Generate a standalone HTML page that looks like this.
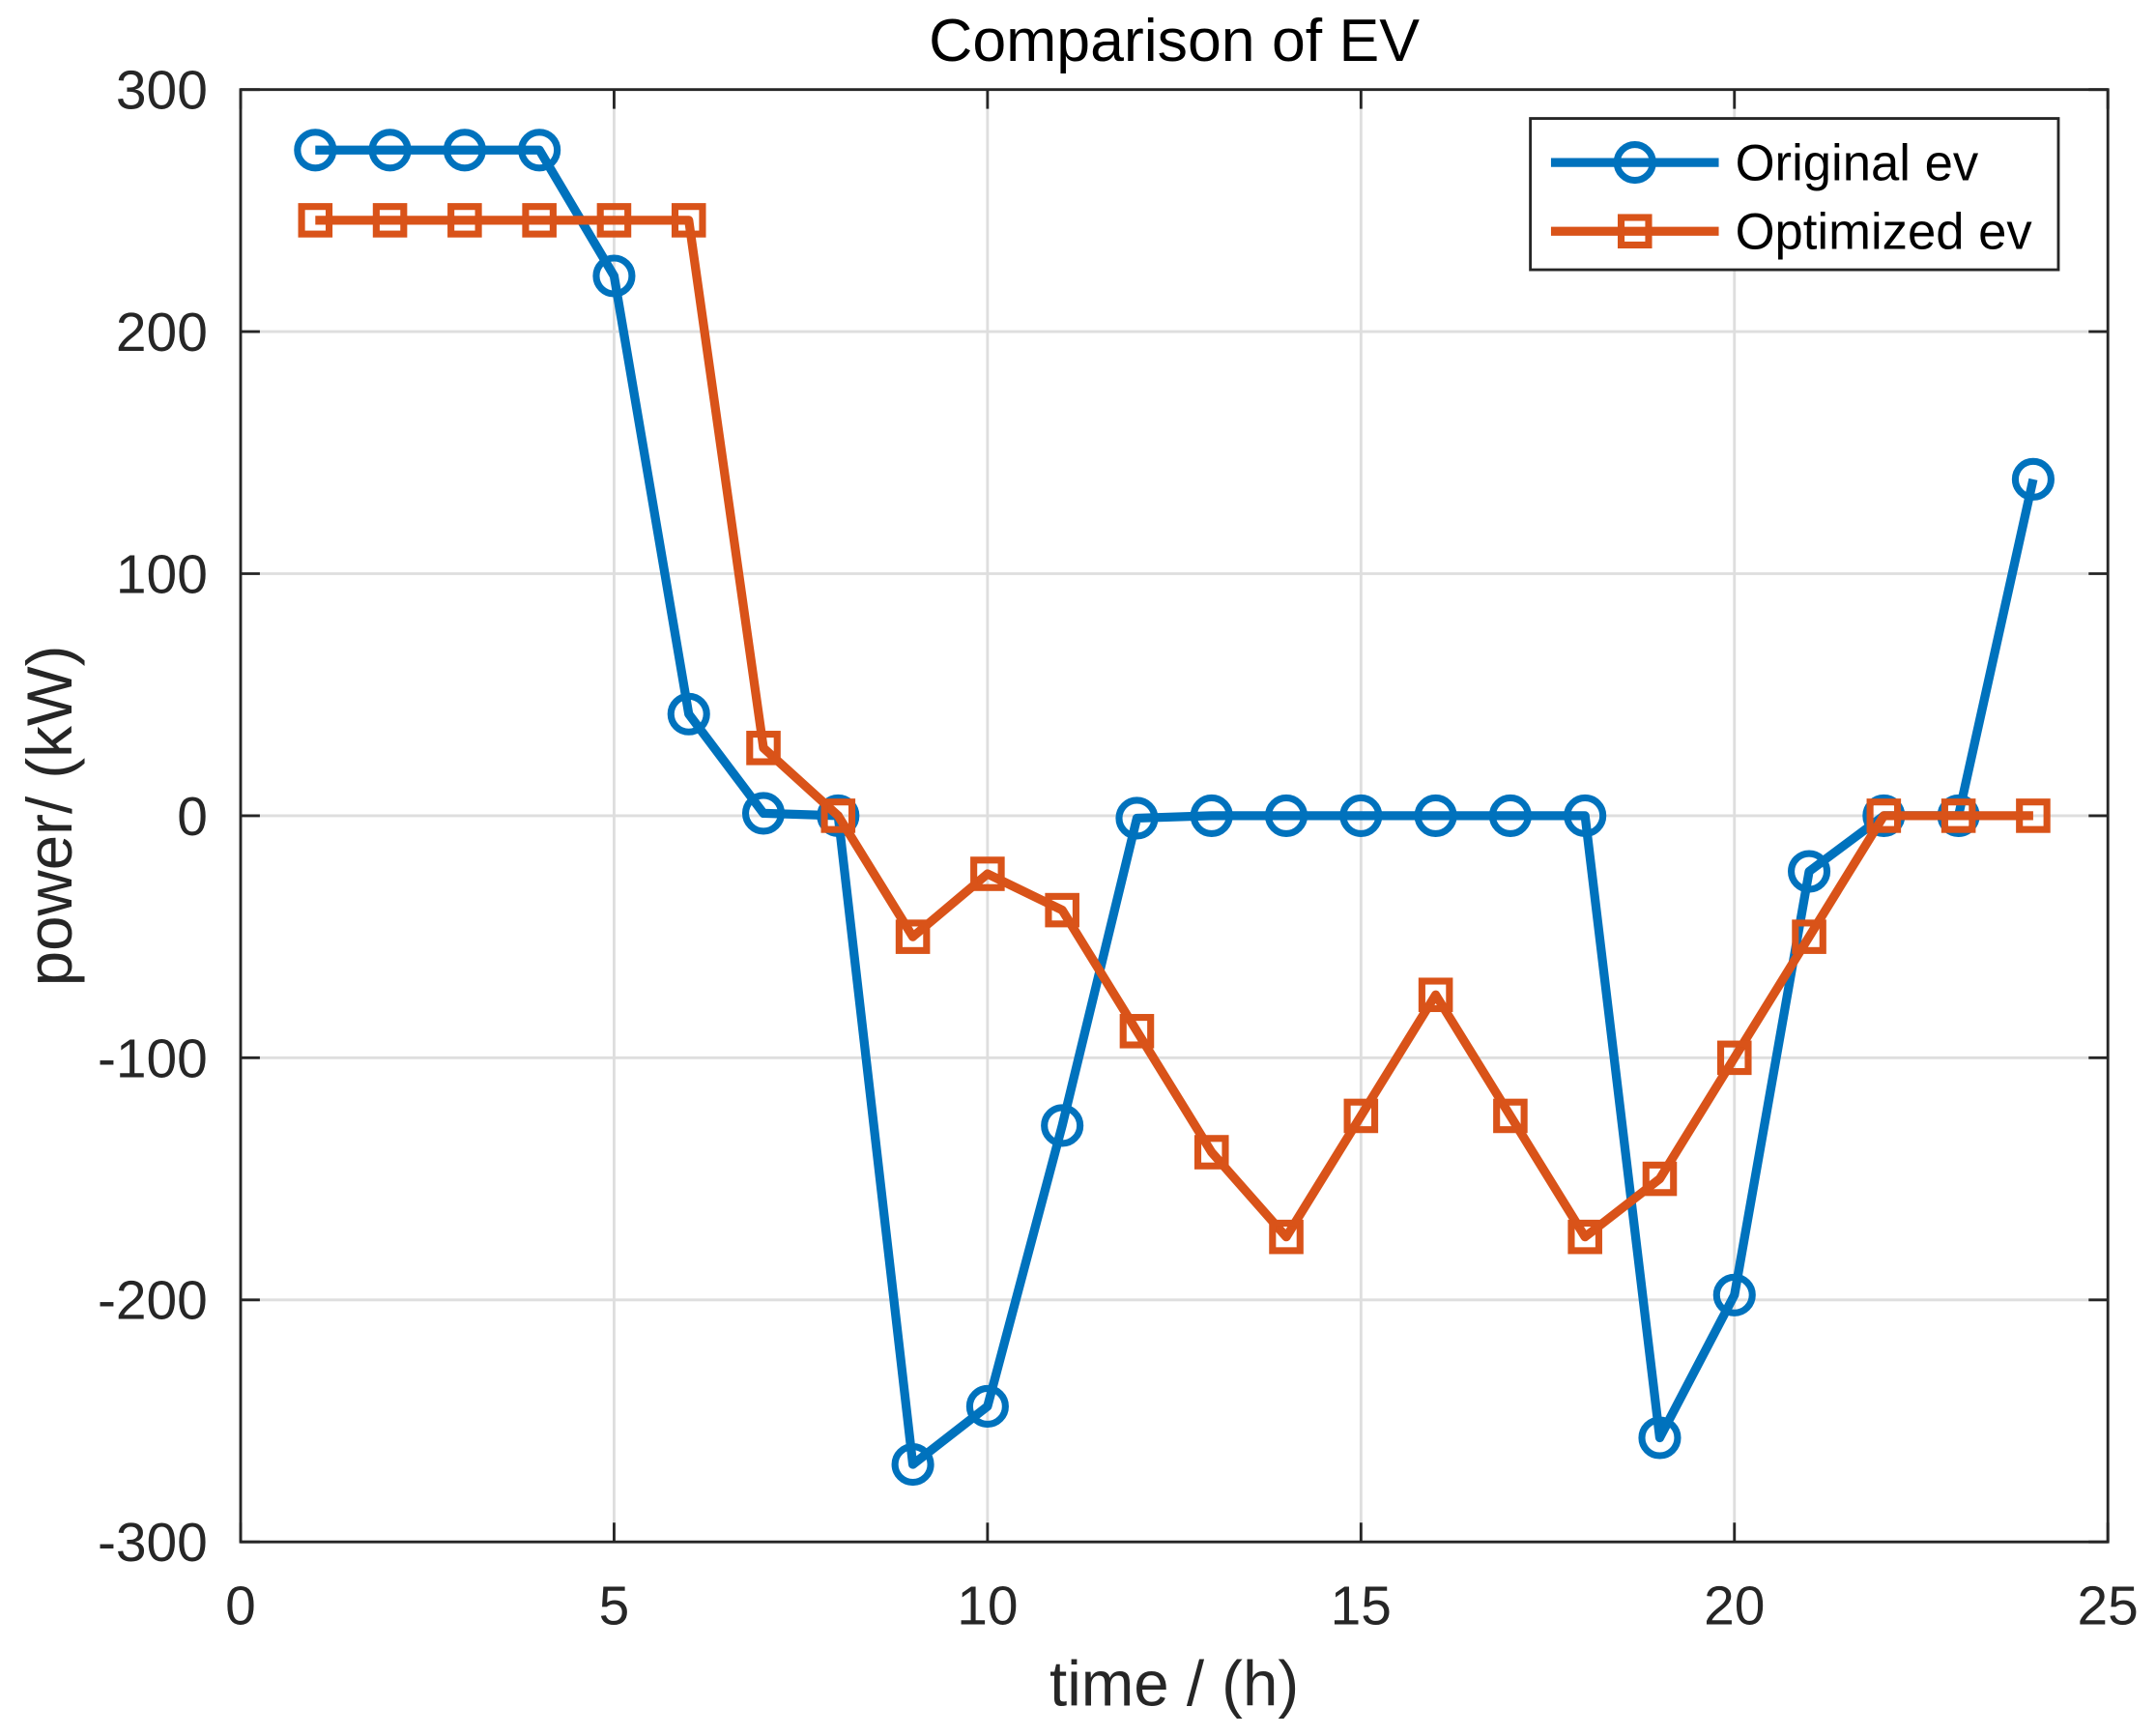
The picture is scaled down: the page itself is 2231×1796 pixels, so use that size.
<!DOCTYPE html>
<html><head><meta charset="utf-8"><style>
html,body{margin:0;padding:0;background:#fff;}
svg{display:block;font-family:"Liberation Sans",Arial,sans-serif;}
</style></head><body>
<svg id="chart" width="2231" height="1796" viewBox="0 0 1568 1262" xmlns="http://www.w3.org/2000/svg">
<rect x="0" y="0" width="1568" height="1262" fill="#fff"/>
<g id="grid"></g>
<g id="ticks"></g>
<g id="series"></g>
<rect x="175" y="65" width="1358" height="1056" fill="none" stroke="#262626" stroke-width="2"/>
<text x="854" y="44" font-size="44" text-anchor="middle" fill="#000">Comparison of EV</text>
<text x="854" y="1240" font-size="46" text-anchor="middle" fill="#262626">time / (h)</text>
<text transform="translate(52,593) rotate(-90)" font-size="46" text-anchor="middle" fill="#262626">power/ (kW)</text>
<g>
<rect x="1113" y="86" width="384" height="110" fill="#fff" stroke="#262626" stroke-width="2"/>
<g>
<line x1="1128" y1="118" x2="1250" y2="118" stroke="#0072BD" stroke-width="6.5"/>
<circle cx="1189" cy="118" r="13" fill="none" stroke="#0072BD" stroke-width="5"/>
<text x="1262" y="131" font-size="37" fill="#000">Original ev</text>
</g>
<g>
<line x1="1128" y1="168" x2="1250" y2="168" stroke="#D95319" stroke-width="6.5"/>
<rect x="1179" y="158" width="20" height="20" fill="none" stroke="#D95319" stroke-width="5"/>
<text x="1262" y="181" font-size="37" fill="#000">Optimized ev</text>
</g>
</g>
</svg>
<script>
const hours = [1,2,3,4,5,6,7,8,9,10,11,12,13,14,15,16,17,18,19,20,21,22,23,24];
const originalEv = [275,275,275,275,223,42,1,0,-268,-244,-128,-1,0,0,0,0,0,0,-257,-198,-23,0,0,139];
const optimizedEv = [246,246,246,246,246,246,28,0,-50,-24,-39,-89,-139,-174,-124,-74,-124,-174,-150,-100,-50,0,0,0];
const xTicks = [0,5,10,15,20,25];
const yTicks = [-300,-200,-100,0,100,200,300];

const L=175,R=1533,T=65,B=1121;
const xs = v => L + (v-0)/(25-0)*(R-L);
const ys = v => B - (v+300)/600*(B-T);
const NS="http://www.w3.org/2000/svg";
function mk(tag, attrs, parent){const e=document.createElementNS(NS,tag);for(const k in attrs)e.setAttribute(k,attrs[k]);parent.appendChild(e);return e;}
const grid=document.getElementById('grid'), ticks=document.getElementById('ticks'), series=document.getElementById('series');

xTicks.forEach(t=>{
  const x=xs(t);
  const g=mk('line',{x1:x,y1:T,x2:x,y2:B,stroke:'#dedede','stroke-width':2},grid);
  
  
  mk('line',{x1:x,y1:B,x2:x,y2:B-14,stroke:'#262626','stroke-width':2},ticks);
  mk('line',{x1:x,y1:T,x2:x,y2:T+14,stroke:'#262626','stroke-width':2},ticks);
  const tx=mk('text',{x:x,y:B+60,'font-size':40,'text-anchor':'middle',fill:'#262626'},ticks);
  tx.textContent=t;
  
  
});
yTicks.forEach(t=>{
  const y=ys(t);
  const g=mk('line',{x1:L,y1:y,x2:R,y2:y,stroke:'#dedede','stroke-width':2},grid);
  
  
  mk('line',{x1:L,y1:y,x2:L+14,y2:y,stroke:'#262626','stroke-width':2},ticks);
  mk('line',{x1:R,y1:y,x2:R-14,y2:y,stroke:'#262626','stroke-width':2},ticks);
  const tx=mk('text',{x:L-24,y:y+14,'font-size':40,'text-anchor':'end',fill:'#262626'},ticks);
  tx.textContent=t;
  
  
});

function draw(vals,color,marker,name){
  const pts=hours.map((h,i)=>xs(h)+','+ys(vals[i])).join(' ');
  const pl=mk('polyline',{points:pts,fill:'none',stroke:color,'stroke-width':6.5,'stroke-linejoin':'round'},series);
  
  
  hours.forEach((h,i)=>{
    let m;
    if(marker==='circle') m=mk('circle',{cx:xs(h),cy:ys(vals[i]),r:13,fill:'none',stroke:color,'stroke-width':5},series);
    else m=mk('rect',{x:xs(h)-10,y:ys(vals[i])-10,width:20,height:20,fill:'none',stroke:color,'stroke-width':5},series);
    
    
  });
}
draw(originalEv,'#0072BD','circle','original-ev');
draw(optimizedEv,'#D95319','square','optimized-ev');
</script>
</body></html>
